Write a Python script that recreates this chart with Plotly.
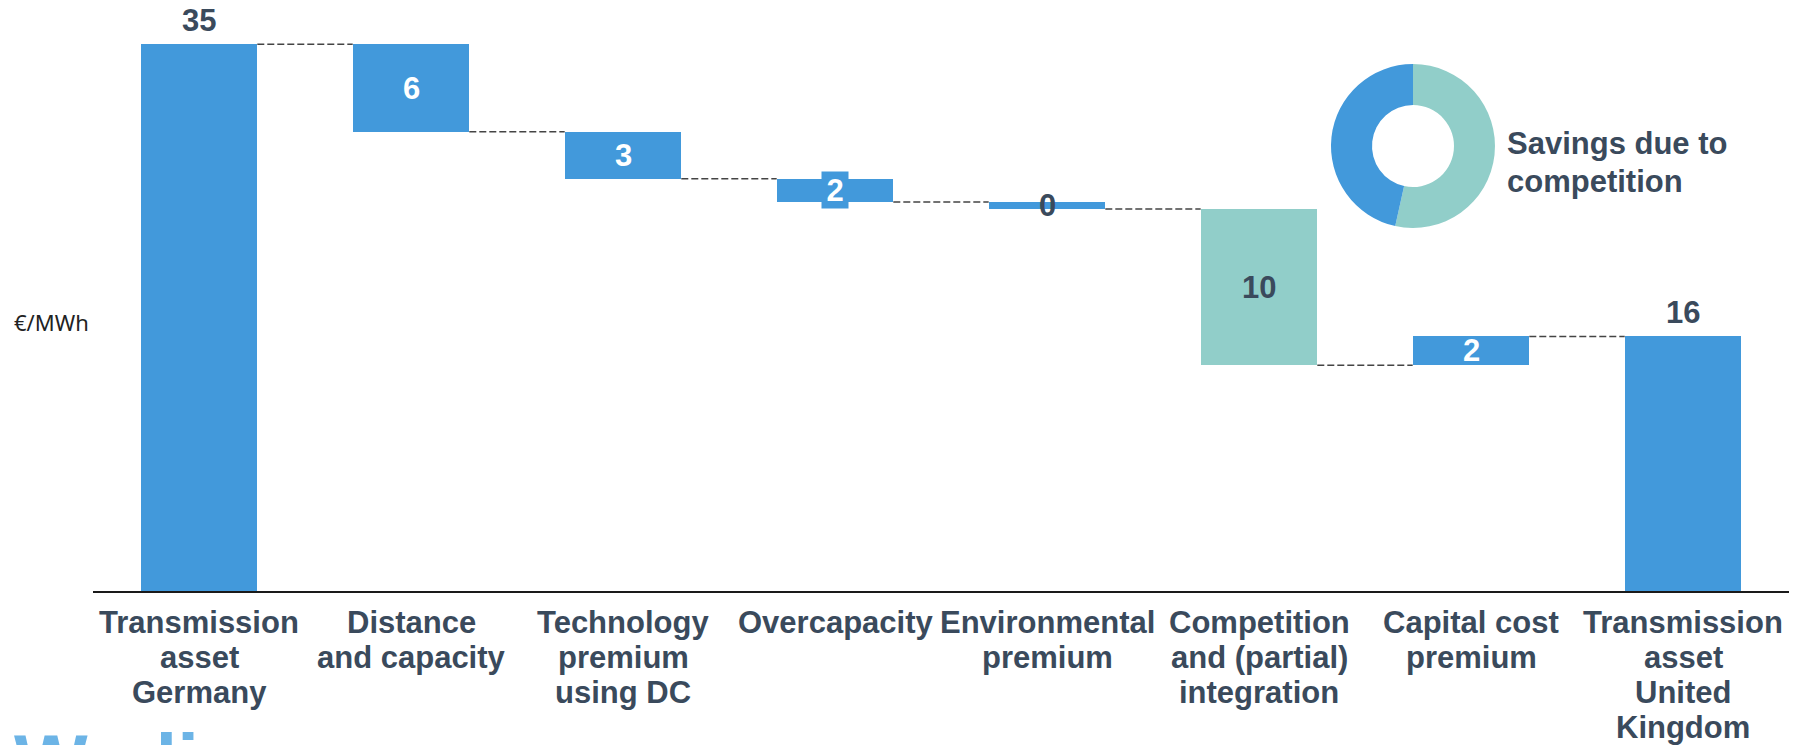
import plotly.graph_objects as go

# ---------------- data ----------------
categories = [
    "Transmission\nasset\nGermany",
    "Distance\nand capacity",
    "Technology\npremium\nusing DC",
    "Overcapacity",
    "Environmental\npremium",
    "Competition\nand (partial)\nintegration",
    "Capital cost\npremium",
    "Transmission\nasset\nUnited\nKingdom",
]
measures = ["total", "relative", "relative", "relative", "relative", "relative", "relative", "total"]
values = [35.0, -5.6, -3.0, -1.5, -0.45, -10.0, 1.85, None]  # last = running total
unit_label = "€/MWh"
donut_caption = ["Savings due to", "competition"]
watermark = "Wedi"

# ---------------- styles ----------------
BLUE = "#4299db"
TEAL = "#91cec9"
DARK = "#3a4a5c"
FONT = "Liberation Sans, Arial, sans-serif"
highlight = "Competition\nand (partial)\nintegration"
boxed_labels = {"Overcapacity"}

W, H = 1804, 745
PL, PR, PT, PB = 93, 1789, 0, 591  # plot area pixel box


def paper_x(px):
    return (px - PL) / (PR - PL)


def paper_y(py):
    return (PB - py) / (PB - PT)


xcats = [c.replace("\n", " ") for c in categories]

# waterfall geometry from the data
bases, heights, levels = [], [], []
running = 0.0
for m, v in zip(measures, values):
    if m == "total":
        v = running if v is None else v
        bases.append(0.0)
        heights.append(v)
        running = v
    else:
        start = running
        running = start + v
        bases.append(min(start, running))
        heights.append(abs(v))
    levels.append(running)

colors = [TEAL if c == highlight else BLUE for c in categories]

fig = go.Figure()
fig.add_trace(go.Bar(
    x=xcats, y=heights, base=bases, width=0.55,
    marker=dict(color=colors, line=dict(width=0)),
    hoverinfo="skip", showlegend=False,
))

# connectors
shapes = []
half = 0.55 / 2
for i in range(len(xcats) - 1):
    shapes.append(dict(
        type="line", xref="x", yref="y",
        x0=i + half, x1=i + 1 - half, y0=levels[i], y1=levels[i],
        line=dict(color="#444444", width=1.5, dash="7px,3px"), layer="below",
    ))

annotations = []
# bar value labels
for i, (c, m, b, h) in enumerate(zip(categories, measures, bases, heights)):
    text = f"{h:.0f}"
    if m == "total":
        annotations.append(dict(x=xcats[i], y=b + h, xref="x", yref="y", text=text,
                                showarrow=False, yanchor="middle", yshift=24,
                                font=dict(family=FONT, size=31, color=DARK, weight="bold")))
    else:
        dark = (c == highlight) or h < 1
        ann = dict(x=xcats[i], y=b + h / 2, xref="x", yref="y", text=text,
                   showarrow=False, yanchor="middle",
                   font=dict(family=FONT, size=31, color=DARK if dark else "white", weight="bold"))
        if c in boxed_labels:
            ann.update(bgcolor=BLUE, width=24, height=34, borderpad=1)
        annotations.append(ann)

# category labels (line by line for tight spacing)
for i, c in enumerate(categories):
    for j, line in enumerate(c.split("\n")):
        annotations.append(dict(x=xcats[i], xref="x", y=0, yref="paper", text=line,
                                showarrow=False, yanchor="middle", yshift=-(31 + 35.3 * j),
                                font=dict(family=FONT, size=31, color=DARK, weight="bold")))

# unit label
annotations.append(dict(x=paper_x(12), xref="paper", xanchor="left", y=paper_y(322), yref="paper",
                        yanchor="middle", text=unit_label, showarrow=False,
                        font=dict(family="Noto Sans, sans-serif", size=22, color="#222222")))

# donut caption
for j, line in enumerate(donut_caption):
    annotations.append(dict(x=paper_x(1505), xref="paper", xanchor="left",
                            y=paper_y(143 + 38 * j), yref="paper", yanchor="middle",
                            text=line, showarrow=False,
                            font=dict(family=FONT, size=31, color=DARK, weight="bold")))

# cropped watermark at bottom left
annotations.append(dict(x=paper_x(12), xref="paper", xanchor="left", y=paper_y(716), yref="paper",
                        yanchor="top", text=watermark, showarrow=False,
                        font=dict(family=FONT, size=78, color="#6cb4e6", weight="bold")))

# donut: savings due to competition vs other savings
total_savings = levels[0] - levels[-1]
competition_saving = -values[categories.index(highlight)]
other_saving = total_savings - competition_saving
fig.add_trace(go.Pie(
    values=[competition_saving, other_saving], labels=["Competition", "Other"],
    marker=dict(colors=[TEAL, BLUE], line=dict(width=0)),
    hole=0.5, sort=False, direction="clockwise", rotation=0,
    textinfo="none", hoverinfo="skip", showlegend=False,
    domain=dict(x=[paper_x(1331), paper_x(1495)], y=[paper_y(228), paper_y(64)]),
))

fig.update_layout(
    width=W, height=H, autosize=False,
    margin=dict(l=PL, r=W - PR, t=PT, b=H - PB, pad=0),
    paper_bgcolor="white", plot_bgcolor="white",
    showlegend=False, bargap=0,
    xaxis=dict(range=[-0.5, len(xcats) - 0.5], showticklabels=False, ticks="",
               showgrid=False, zeroline=False, showline=True, linecolor="#1a1a1a", linewidth=2,
               fixedrange=True),
    yaxis=dict(range=[0, 35 * (PB - PT) / (PB - 44.3)], visible=False, showgrid=False,
               zeroline=False, fixedrange=True),
    shapes=shapes, annotations=annotations,
)

fig.write_html("out.html")
